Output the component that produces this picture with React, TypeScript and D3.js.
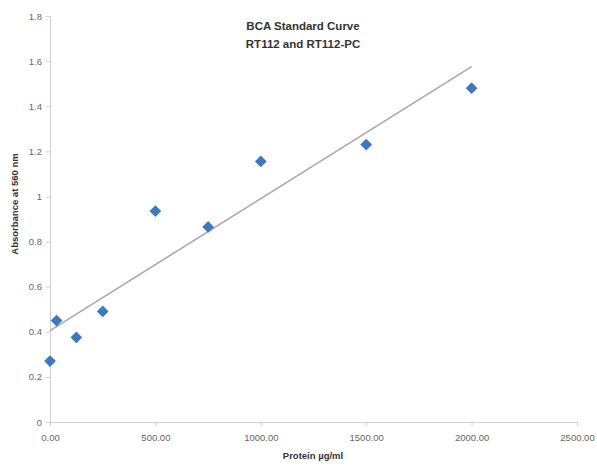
import React, { useRef, useEffect } from 'react';
import * as d3 from 'd3';

const protein = [0, 31.25, 125, 250, 500, 750, 1000, 1500, 2000];
const absorbance = [0.27, 0.45, 0.375, 0.49, 0.935, 0.865, 1.155, 1.23, 1.48];
const xTicks = [0, 500, 1000, 1500, 2000, 2500];
const yTicks = [0, 0.2, 0.4, 0.6, 0.8, 1, 1.2, 1.4, 1.6, 1.8];
const titleLines = ['BCA Standard Curve', 'RT112 and RT112-PC'];

const width = 597;
const height = 466;
const font = "'Liberation Sans Narrow', 'Liberation Sans', Arial, sans-serif";

const App: React.FC = () => {
  const svgRef = useRef<SVGSVGElement>(null);

  useEffect(() => {
    if (!svgRef.current) return;
    const svg = d3.select(svgRef.current);
    svg.selectAll('*').remove();

    const x = d3.scaleLinear().domain([0, 2500]).range([50, 577]);
    const y = d3.scaleLinear().domain([0, 1.8]).range([422, 16]);

    // axes
    const xAxis = svg.append('g')
      .attr('transform', `translate(0,${y(0)})`)
      .call(d3.axisBottom(x).tickValues(xTicks).tickFormat(d3.format('.2f')).tickSizeOuter(0).tickSize(4).tickPadding(8));
    xAxis.select('.domain').attr('stroke', '#d0d0d0');
    xAxis.selectAll('.tick line').attr('stroke', '#d0d0d0');
    xAxis.selectAll('.tick text')
      .style('font-family', font).style('font-size', '9.5px').attr('fill', '#666');

    const yAxis = svg.append('g')
      .attr('transform', `translate(${x(0)},0)`)
      .call(d3.axisLeft(y).tickValues(yTicks).tickFormat(d3.format('~g')).tickSizeOuter(0).tickSize(4).tickPadding(4));
    yAxis.select('.domain').attr('stroke', '#d0d0d0');
    yAxis.selectAll('.tick line').attr('stroke', '#d0d0d0');
    yAxis.selectAll('.tick text')
      .style('font-family', font).style('font-size', '9.5px').attr('fill', '#666');

    // linear trendline (least squares)
    const mx = d3.mean(protein) as number;
    const my = d3.mean(absorbance) as number;
    let sxy = 0, sxx = 0;
    protein.forEach((v, i) => {
      sxy += (v - mx) * (absorbance[i] - my);
      sxx += (v - mx) * (v - mx);
    });
    const slope = sxy / sxx;
    const intercept = my - slope * mx;
    const x0 = d3.min(protein) as number;
    const x1 = d3.max(protein) as number;
    svg.append('line')
      .attr('x1', x(x0)).attr('y1', y(intercept + slope * x0))
      .attr('x2', x(x1)).attr('y2', y(intercept + slope * x1))
      .attr('stroke', '#a6a6a6').attr('stroke-width', 1.5);

    // points
    const diamond = d3.symbol().type(d3.symbolDiamond2).size(88);
    svg.append('g')
      .selectAll('path')
      .data(protein.map((p, i) => ({ p, a: absorbance[i] })))
      .enter()
      .append('path')
      .attr('d', diamond)
      .attr('transform', d => `translate(${x(d.p)},${y(d.a)})`)
      .attr('fill', '#3f78c2');

    // title
    svg.append('g')
      .selectAll('text')
      .data(titleLines)
      .enter()
      .append('text')
      .attr('x', 303)
      .attr('y', (d, i) => 30 + i * 18)
      .attr('text-anchor', 'middle')
      .style('font-family', font)
      .style('font-size', '11.5px')
      .style('font-weight', 'bold')
      .attr('fill', '#333')
      .text(d => d);

    // axis titles
    svg.append('text')
      .attr('x', 313).attr('y', 459)
      .attr('text-anchor', 'middle')
      .style('font-family', font).style('font-size', '9.5px').style('font-weight', 'bold')
      .attr('fill', '#333')
      .text('Protein µg/ml');

    svg.append('text')
      .attr('transform', 'translate(18,204) rotate(-90)')
      .attr('text-anchor', 'middle')
      .style('font-family', font).style('font-size', '9.5px').style('font-weight', 'bold')
      .attr('fill', '#333')
      .text('Absorbance at 560 nm');
  }, []);

  return (
    <svg
      ref={svgRef}
      width={width}
      height={height}
      style={{ position: 'absolute', left: 0, top: 0, background: '#fff' }}
      viewBox={`0 0 ${width} ${height}`}
    />
  );
};

export default App;
